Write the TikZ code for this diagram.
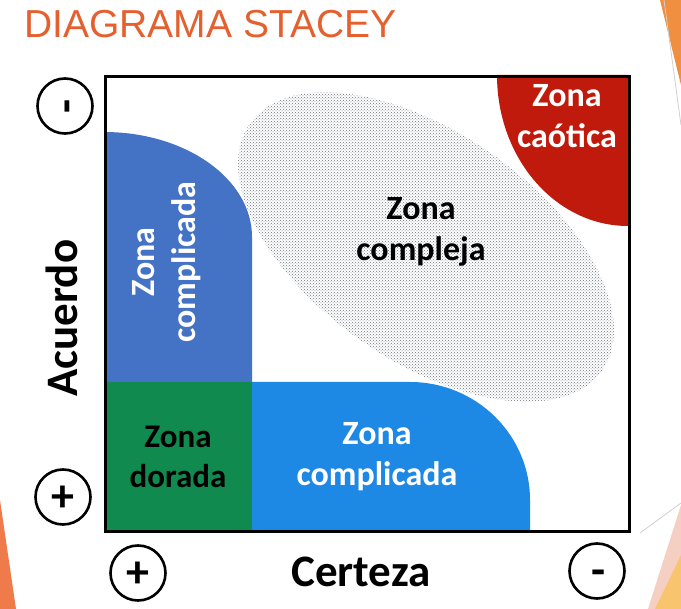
\documentclass[tikz,border=0pt]{standalone}
\usepackage{fontspec}
\setmainfont{Carlito}
\newfontfamily\titlefont{Liberation Sans}
\usetikzlibrary{patterns}
\definecolor{titleorange}{HTML}{E4602E}
\definecolor{decoorange}{HTML}{EF7B4B}
\definecolor{decopink}{HTML}{F6CFC3}
\definecolor{decoyellow}{HTML}{F9C46E}
\definecolor{decogray}{HTML}{D0D0D0}
\definecolor{bluezone}{HTML}{4472C4}
\definecolor{brightblue}{HTML}{1E88E5}
\definecolor{greenzone}{HTML}{108A4E}
\definecolor{redzone}{HTML}{BF1A0B}
\definecolor{dotgray}{HTML}{6E7480}
\begin{document}
\begin{tikzpicture}[x=1pt,y=-1pt,
  zonetext/.style={align=center,font=\bfseries\fontsize{34}{41}\selectfont,inner sep=0pt},
  axistext/.style={font=\bfseries\fontsize{45}{45}\selectfont,inner sep=0pt},
  signcircle/.style={circle,draw=black,line width=2.6pt,minimum size=55pt,inner sep=0pt},
  signtext/.style={font=\bfseries\fontsize{46}{46}\selectfont,inner sep=0pt}]
\useasboundingbox (0,0) rectangle (681,609);
\fill[white] (0,0) rectangle (681,609);
% slide decorations
\fill[decoorange!85!yellow] (660,0) -- (681,0) -- (681,85) -- cycle;
\draw[decogray,line width=0.8pt] (664,0) -- (681,125);
\fill[decopink] (681,505) -- (681,609) -- (648,609) -- cycle;
\fill[decoyellow] (681,555) -- (681,609) -- (655,609) -- cycle;
\draw[decogray,line width=0.8pt] (640,533) -- (681,503);
\fill[decoorange] (0,500) -- (16,609) -- (0,609) -- cycle;
% title
\node[anchor=west,inner sep=0pt,text=titleorange,font=\titlefont\fontsize{39}{39}\selectfont] (title) at (24,24) {DIAGRAMA STACEY};
% complex zone
\fill[pattern=crosshatch dots,pattern color=dotgray,rotate around={-35:(426,247)}] (426,247) ellipse [x radius=215, y radius=114];
% zones
\fill[bluezone] (104,382) -- (104,132) arc[start angle=270,end angle=360,x radius=148,y radius=105] -- (252,382) -- cycle;
\fill[greenzone] (104,382) rectangle (252,530);
\fill[brightblue] (252,530) -- (252,382) -- (410,382) arc[start angle=270,end angle=360,x radius=120,y radius=118] -- (530,530) -- cycle;
\fill[redzone] (628,75) -- (497,75) arc[start angle=180,end angle=90,x radius=131,y radius=151] -- cycle;
% frame
\node[draw=black,line width=2.6pt,minimum width=524pt,minimum height=455pt,inner sep=0pt,anchor=north west] (frame) at (104,75) {};
% zone labels
\node[zonetext,text=white] (caotica) at (567,116) {Zona\\caótica};
\node[zonetext,text=black] (compleja) at (421,232) {Zona\\compleja};
\node[zonetext,text=black,font=\bfseries\fontsize{33}{40}\selectfont] (dorada) at (178,457) {Zona\\dorada};
\node[zonetext,text=white] (complicadaB) at (377,457) {Zona\\complicada};
\node[zonetext,text=white,rotate=90] (complicadaA) at (167,262) {Zona\\complicada};
% axes
\node[axistext,rotate=90] (acuerdo) at (62,318) {Acuerdo};
\node[axistext] (certeza) at (361,572) {Certeza};
% sign circles
\node[signcircle] (accneg) at (65,106) {};
\node[signtext,rotate=90,anchor=base] (accnegs) at (80,106) {-};
\node[signcircle] (accpos) at (63,497) {};
\node[signtext] (accposs) at (63,499) {+};
\node[signcircle] (cerpos) at (138,573) {};
\node[signtext] (cerposs) at (138,575) {+};
\node[signcircle] (cerneg) at (597,571) {};
\node[signtext,anchor=base] (cernegs) at (599,586) {-};
\end{tikzpicture}
\end{document}
